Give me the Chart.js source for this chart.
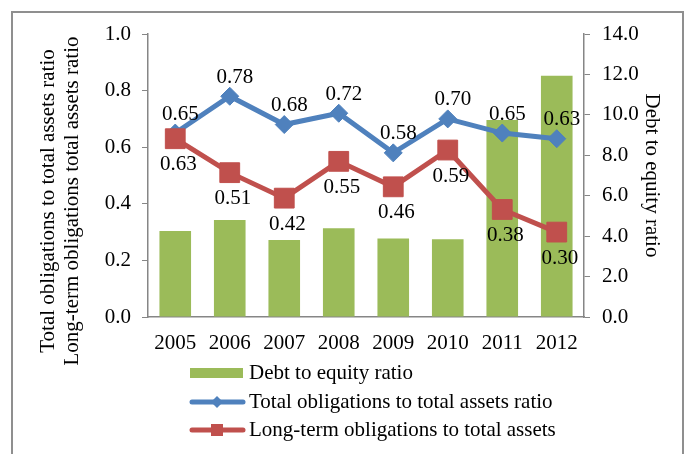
<!DOCTYPE html>
<html>
<head>
<meta charset="utf-8">
<script src="https://cdnjs.cloudflare.com/ajax/libs/Chart.js/4.4.1/chart.umd.min.js"></script>
<style>
  html, body { margin: 0; padding: 0; background: #fff; }
  canvas { display: block; }
</style>
</head>
<body>
<canvas id="ratioChart" width="686" height="454"></canvas>
<script>
// data
var years = ["2005", "2006", "2007", "2008", "2009", "2010", "2011", "2012"];
var debtToEquity = [4.25, 4.80, 3.81, 4.39, 3.88, 3.85, 9.75, 11.94];
var totalObligations = [0.65, 0.78, 0.68, 0.72, 0.58, 0.70, 0.65, 0.63];
var longTermObligations = [0.63, 0.51, 0.42, 0.55, 0.46, 0.59, 0.38, 0.30];
var leftTicks = { min: 0, max: 1.0, step: 0.2 };
var rightTicks = { min: 0, max: 14.0, step: 2.0 };

var seriesNames = ["Debt to equity ratio", "Total obligations to total assets ratio", "Long-term obligations to total assets"];
var leftTitle = ["Total obligations to total assets ratio", "Long-term obligations total assets ratio"];
var rightTitle = "Debt to equity ratio";

var GREEN = "#9BBB59", BLUE = "#4F81BD", RED = "#C0504D", AXIS = "#868686";
var FONT = "'Liberation Serif', 'Times New Roman', serif";
var FS = 21;

Chart.defaults.font.family = FONT;
Chart.defaults.font.size = FS;
Chart.defaults.color = "#000";

// value labels, frame, left title and legend
var extras = {
  id: "extras",
  afterDatasetsDraw: function(chart) {
    var ctx = chart.ctx;
    ctx.save();
    ctx.font = FS + "px " + FONT;
    ctx.fillStyle = "#000";
    ctx.textAlign = "center";
    ctx.textBaseline = "middle";
    chart.getDatasetMeta(1).data.forEach(function(pt, i) {
      ctx.fillText(totalObligations[i].toFixed(2), pt.x + 5, pt.y - 19);
    });
    chart.getDatasetMeta(2).data.forEach(function(pt, i) {
      ctx.fillText(longTermObligations[i].toFixed(2), pt.x + 3, pt.y + 26);
    });
    ctx.restore();
  },
  afterDraw: function(chart) {
    var ctx = chart.ctx;
    ctx.save();
    // frame
    ctx.strokeStyle = "#8f8f8f";
    ctx.lineWidth = 2;
    ctx.strokeRect(12, 12, 671, 470);

    // left title, two lines
    ctx.font = FS + "px " + FONT;
    ctx.fillStyle = "#000";
    ctx.textAlign = "center";
    ctx.textBaseline = "middle";
    [48, 72].forEach(function(x, i) {
      ctx.save();
      ctx.translate(x, 201);
      ctx.rotate(-Math.PI / 2);
      ctx.fillText(leftTitle[i], 0, 0);
      ctx.restore();
    });

    // legend
    var lx = 190, tx = 249, rows = [373, 402, 430];
    ctx.textAlign = "left";
    ctx.fillStyle = GREEN;
    ctx.fillRect(lx, rows[0] - 5, 53, 10);

    ctx.lineCap = "round";
    ctx.lineWidth = 5;
    ctx.strokeStyle = BLUE;
    ctx.beginPath(); ctx.moveTo(lx + 2, rows[1]); ctx.lineTo(lx + 53, rows[1]); ctx.stroke();
    ctx.fillStyle = BLUE;
    ctx.beginPath();
    ctx.moveTo(217, rows[1] - 6); ctx.lineTo(223, rows[1]); ctx.lineTo(217, rows[1] + 6); ctx.lineTo(211, rows[1]);
    ctx.closePath(); ctx.fill();

    ctx.strokeStyle = RED;
    ctx.beginPath(); ctx.moveTo(lx + 2, rows[2]); ctx.lineTo(lx + 53, rows[2]); ctx.stroke();
    ctx.fillStyle = RED;
    ctx.fillRect(211, rows[2] - 6, 12, 12);

    ctx.fillStyle = "#000";
    seriesNames.forEach(function(name, i) {
      ctx.fillText(name, tx, rows[i]);
    });
    ctx.restore();
  }
};

new Chart(document.getElementById("ratioChart"), {
  data: {
    labels: years,
    datasets: [{
      type: "bar",
      label: seriesNames[0],
      data: debtToEquity,
      yAxisID: "yRight",
      backgroundColor: GREEN,
      categoryPercentage: 1.0,
      barPercentage: 0.58,
      order: 2
    }, {
      type: "line",
      label: seriesNames[1],
      data: totalObligations,
      yAxisID: "yLeft",
      borderColor: BLUE,
      backgroundColor: BLUE,
      borderWidth: 5,
      pointStyle: "rectRot",
      pointRadius: 9,
      pointBorderWidth: 1,
      order: 1
    }, {
      type: "line",
      label: seriesNames[2],
      data: longTermObligations,
      yAxisID: "yLeft",
      borderColor: RED,
      backgroundColor: RED,
      borderWidth: 5,
      pointStyle: "rect",
      pointRadius: 14,
      pointBorderWidth: 1,
      order: 0
    }]
  },
  options: {
    responsive: false,
    animation: false,
    layout: { padding: { top: 34, left: 0, right: 0, bottom: 0 } },
    plugins: { legend: { display: false }, tooltip: { enabled: false } },
    scales: {
      x: {
        grid: { display: false, drawTicks: false },
        border: { display: true, color: AXIS, width: 1.5 },
        ticks: { padding: 14, maxRotation: 0 },
        afterFit: function(s) { s.height = 137; }
      },
      yLeft: {
        position: "left",
        min: leftTicks.min, max: leftTicks.max,
        grid: { display: true, drawOnChartArea: false, drawTicks: true, tickLength: 6, color: AXIS },
        border: { display: true, color: AXIS, width: 1.5 },
        ticks: { stepSize: leftTicks.step, padding: 11, callback: function(v) { return v.toFixed(1); } },
        afterFit: function(s) { s.width = 148; }
      },
      yRight: {
        position: "right",
        min: rightTicks.min, max: rightTicks.max,
        grid: { display: true, drawOnChartArea: false, drawTicks: true, tickLength: 6, color: AXIS },
        border: { display: true, color: AXIS, width: 1.5 },
        ticks: { stepSize: rightTicks.step, padding: 12, callback: function(v) { return v.toFixed(1); } },
        title: { display: true, text: rightTitle, padding: { top: 22, bottom: 0 } },
        afterFit: function(s) { s.width = 102; }
      }
    }
  },
  plugins: [extras]
});
</script>
</body>
</html>
